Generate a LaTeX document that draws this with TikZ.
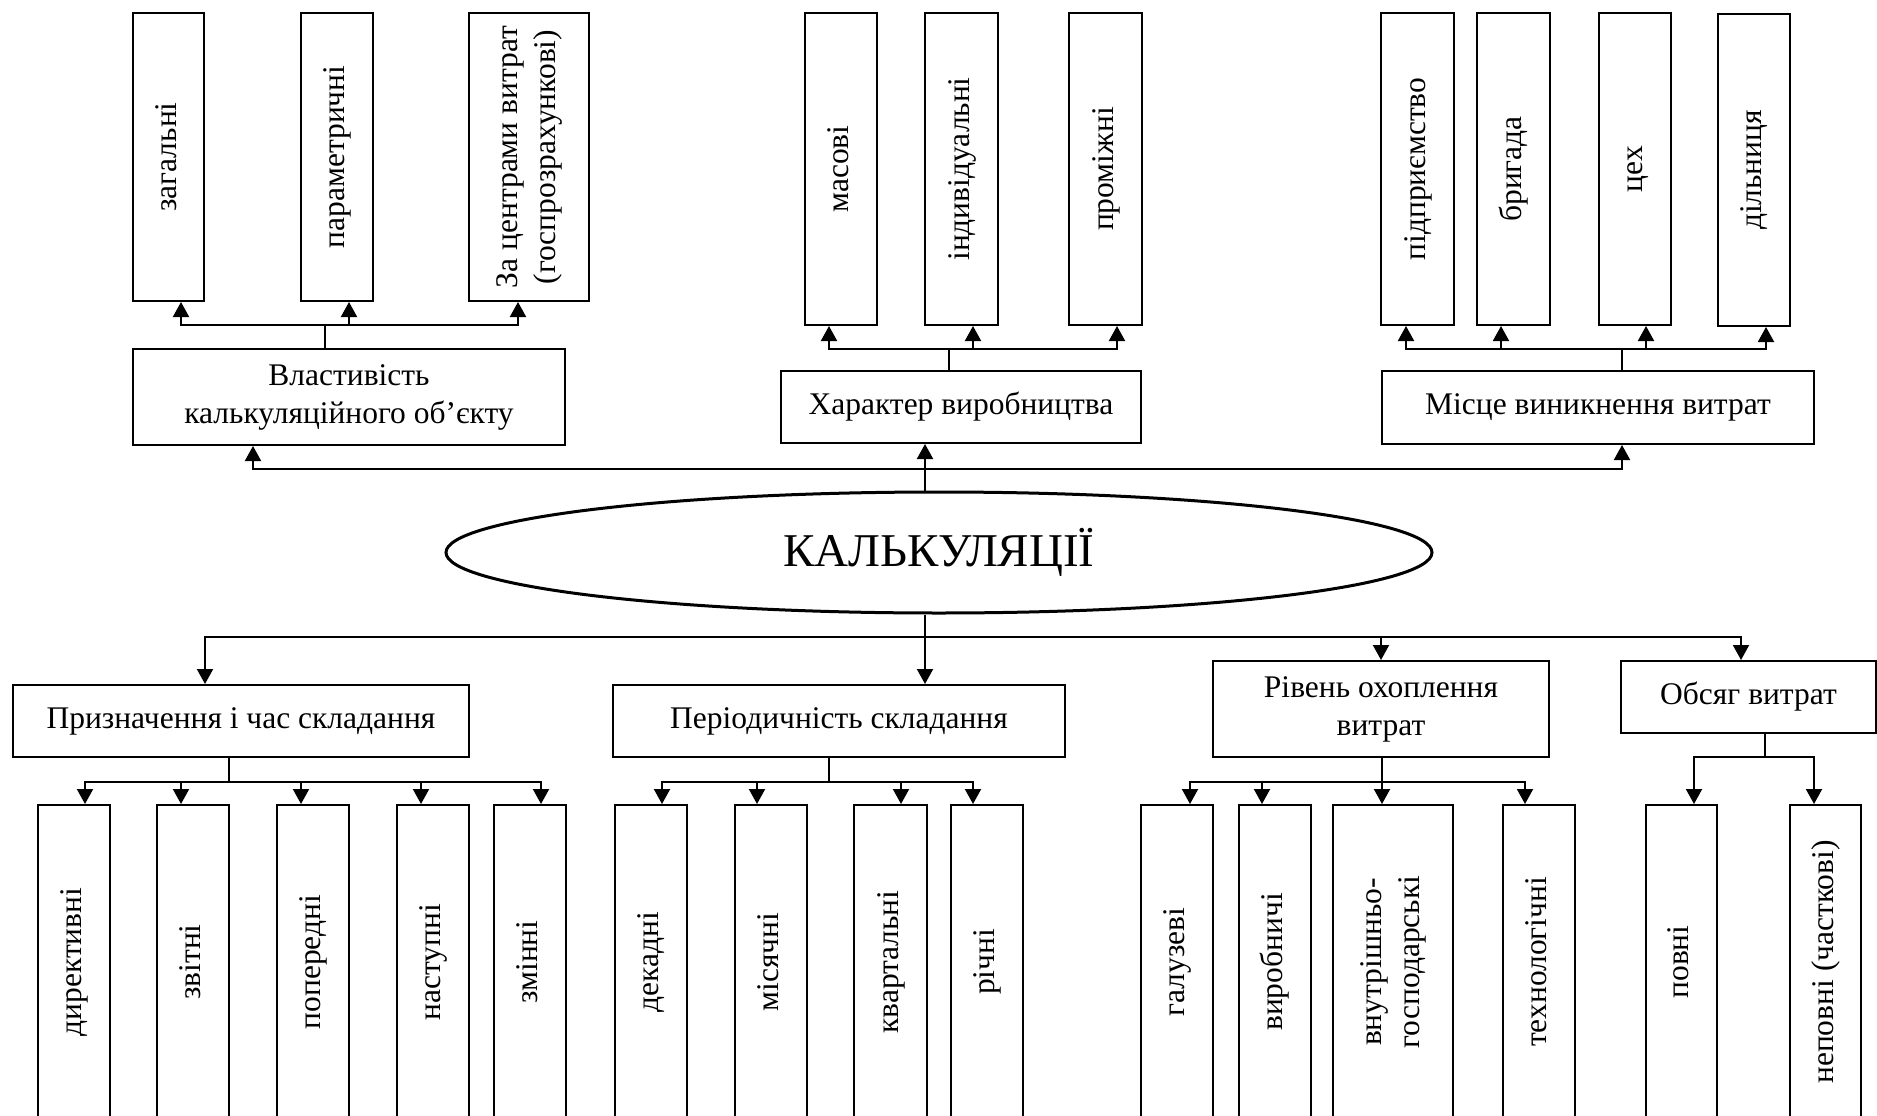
\documentclass[tikz,border=0pt]{standalone}
\usepackage{fontspec}
\setmainfont{Liberation Serif}
\usepackage{graphicx}
\usetikzlibrary{arrows.meta,shapes.geometric,calc}

% upright label set bottom-to-top inside a tall box
\newcommand\vlabel[1]{\rotatebox{90}{\begin{tabular}{@{}c@{}}#1\end{tabular}}}

\begin{document}
\begin{tikzpicture}[x=1pt,y=-1pt,
  font=\fontsize{31.5}{38}\selectfont,
  box/.style={draw,line width=2pt,inner sep=0pt,align=center},
  tallbox/.style={box,minimum height=312},
  lowbox/.style={box,minimum height=314},
  link/.style={line width=2pt},
  arr/.style={link,-{Triangle[length=15pt,width=16pt]}},
]
\clip (0,0) rectangle (1877,1116);
\fill[white] (0,0) rectangle (1877,1116);

% ---------- central ellipse ----------
\node[ellipse,draw,line width=3pt,inner sep=0pt,minimum width=986,minimum height=121,
      font=\fontsize{47}{52}\selectfont] (E) at (939,552.5) {КАЛЬКУЛЯЦІЇ};

% ---------- upper classification ----------
\node[box,minimum width=432,minimum height=96] (A0) at (349,397) {Властивість\\калькуляційного об’єкту};
\node[box,minimum width=71,minimum height=288] (A1) at (168.5,157) {\vlabel{загальні}};
\node[box,minimum width=72,minimum height=288] (A2) at (337,157) {\vlabel{параметричні}};
\node[box,minimum width=120,minimum height=288] (A3) at (529,157) {\vlabel{За центрами витрат\\(госпрозрахункові)}};

\node[box,minimum width=360,minimum height=72] (B0) at (961,407) {Характер виробництва};
\node[tallbox,minimum width=72] (B1) at (841,169) {\vlabel{масові}};
\node[tallbox,minimum width=73] (B2) at (961.5,169) {\vlabel{індивідуальні}};
\node[tallbox,minimum width=73] (B3) at (1105.5,169) {\vlabel{проміжні}};

\node[box,minimum width=432,minimum height=73] (C0) at (1598,407.5) {Місце виникнення витрат};
\node[tallbox,minimum width=73] (C1) at (1417.5,169) {\vlabel{підприємство}};
\node[tallbox,minimum width=73] (C2) at (1513.5,169) {\vlabel{бригада}};
\node[tallbox,minimum width=72] (C3) at (1635,169) {\vlabel{цех}};
\node[tallbox,minimum width=72] (C4) at (1754,170) {\vlabel{дільниця}};

% ---------- lower classification ----------
\node[box,minimum width=456,minimum height=72] (D0) at (241,721) {Призначення і час складання};
\node[lowbox,minimum width=72] (D1) at (74,962) {\vlabel{директивні}};
\node[lowbox,minimum width=71.5] (D2) at (192.75,962) {\vlabel{звітні}};
\node[lowbox,minimum width=72] (D3) at (313,962) {\vlabel{попередні}};
\node[lowbox,minimum width=72] (D4) at (433,962) {\vlabel{наступні}};
\node[lowbox,minimum width=72] (D5) at (530,962) {\vlabel{змінні}};

\node[box,minimum width=452.5,minimum height=72] (F0) at (839,721) {Періодичність складання};
\node[lowbox,minimum width=72] (F1) at (651,962) {\vlabel{декадні}};
\node[lowbox,minimum width=72] (F2) at (771,962) {\vlabel{місячні}};
\node[lowbox,minimum width=73] (F3) at (890.5,962) {\vlabel{квартальні}};
\node[lowbox,minimum width=72] (F4) at (987,962) {\vlabel{річні}};

\node[box,minimum width=336,minimum height=96] (G0) at (1381,709) {Рівень охоплення\\витрат};
\node[lowbox,minimum width=72] (G1) at (1177,962) {\vlabel{галузеві}};
\node[lowbox,minimum width=72] (G2) at (1275,962) {\vlabel{виробничі}};
\node[lowbox,minimum width=120] (G3) at (1393,962) {\vlabel{внутрішньо-\\господарські}};
\node[lowbox,minimum width=71.5] (G4) at (1538.75,962) {\vlabel{технологічні}};

\node[box,minimum width=255,minimum height=72] (H0) at (1748.5,697) {Обсяг витрат};
\node[lowbox,minimum width=71.5] (H1) at (1681.25,962) {\vlabel{повні}};
\node[lowbox,minimum width=71] (H2) at (1825.5,962) {\vlabel{неповні (часткові)}};

% ---------- connectors: upper ----------
\coordinate (Tb) at (925,469);
\draw[arr] (E.north -| Tb) -- (B0.south -| Tb);
\draw[arr] (Tb) -| ([xshift=-96]A0.south);
\draw[arr] (Tb) -| ([xshift=24]C0.south);

\coordinate (Ab) at (325,325);
\draw[link] (A0.north -| Ab) -- (Ab);
\draw[arr] (Ab) -| ([xshift=12.5]A1.south);
\draw[arr] (Ab) -| ([xshift=12]A2.south);
\draw[arr] (Ab) -| ([xshift=-11]A3.south);

\coordinate (Bb) at (949,349);
\draw[link] (B0.north -| Bb) -- (Bb);
\draw[arr] (Bb) -| ([xshift=-12]B1.south);
\draw[arr] (Bb) -| ([xshift=11.5]B2.south);
\draw[arr] (Bb) -| ([xshift=11.5]B3.south);

\coordinate (Cb) at (1622,349);
\draw[link] (C0.north -| Cb) -- (Cb);
\draw[arr] (Cb) -| ([xshift=-11.5]C1.south);
\draw[arr] (Cb) -| ([xshift=-12.5]C2.south);
\draw[arr] (Cb) -| ([xshift=11]C3.south);
\draw[arr] (Cb) -| ([xshift=12]C4.south);

% ---------- connectors: lower ----------
\coordinate (Lb) at (925,637);
\draw[arr] (E.south -| Lb) -- (F0.north -| Lb);
\draw[arr] (Lb) -| ([xshift=-36]D0.north);
\draw[arr] (Lb) -| (G0.north);
\draw[arr] (Lb) -| ([xshift=-7.5]H0.north);

\coordinate (Db) at (228.5,782);
\draw[link] (D0.south -| Db) -- (Db);
\draw[arr] (Db) -| ([xshift=11]D1.north);
\draw[arr] (Db) -| ([xshift=-11.75]D2.north);
\draw[arr] (Db) -| ([xshift=-12]D3.north);
\draw[arr] (Db) -| ([xshift=-12]D4.north);
\draw[arr] (Db) -| ([xshift=11]D5.north);

\coordinate (Fb) at (829,782);
\draw[link] (F0.south -| Fb) -- (Fb);
\draw[arr] (Fb) -| ([xshift=11]F1.north);
\draw[arr] (Fb) -| ([xshift=-14]F2.north);
\draw[arr] (Fb) -| ([xshift=10.5]F3.north);
\draw[arr] (Fb) -| ([xshift=-14]F4.north);

\coordinate (Gb) at (1382,782);
\draw[link] (G0.south -| Gb) -- (Gb);
\draw[arr] (Gb) -| ([xshift=13]G1.north);
\draw[arr] (Gb) -| ([xshift=-13]G2.north);
\draw[arr] (Gb) -| ([xshift=-11]G3.north);
\draw[arr] (Gb) -| ([xshift=-13.75]G4.north);

\coordinate (Hb) at (1765,757);
\draw[link] (H0.south -| Hb) -- (Hb);
\draw[arr] (Hb) -| ([xshift=12.75]H1.north);
\draw[arr] (Hb) -| ([xshift=-11.5]H2.north);
\end{tikzpicture}
\end{document}
